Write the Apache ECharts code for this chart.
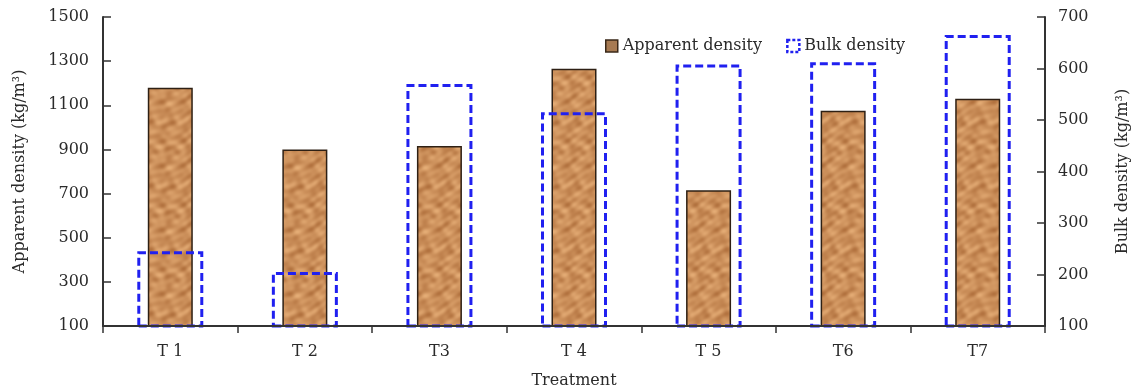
<!DOCTYPE html>
<html>
<head>
<meta charset="utf-8">
<script src="https://cdn.jsdelivr.net/npm/echarts@6/dist/echarts.min.js"></script>
<style>
html,body{margin:0;padding:0;background:#fff;}
#chart{width:1132px;height:392px;}
</style>
</head>
<body>
<div id="chart"></div>
<script>
const categories = ['T 1', 'T 2', 'T3', 'T 4', 'T 5', 'T6', 'T7'];
const apparentDensity = [1180, 900, 915, 1265, 715, 1075, 1130];
const bulkDensity = [245, 205, 570, 515, 608, 612, 665];
const leftTicks = [100, 1500, 200];
const rightTicks = [100, 700, 100];

// cork-like texture for the apparent density bars (deterministic, decorative only)
function makeTexture() {
  const N = 64;
  const c = document.createElement('canvas');
  c.width = N; c.height = N;
  const ctx = c.getContext('2d');
  const img = ctx.createImageData(N, N);
  const a = 2 * Math.PI / N;
  for (let y = 0; y < N; y++) {
    for (let x = 0; x < N; x++) {
      let v = Math.sin(x * a * 3 + Math.sin(y * a * 2) * 1.8)
            + Math.sin(y * a * 5 + Math.cos(x * a * 3) * 1.4)
            + 0.6 * Math.sin((x + 2 * y) * a * 4 + Math.sin(x * a) * 2)
            + 0.5 * Math.cos((2 * x - y) * a * 3 + Math.cos(y * a * 2));
      v = v / 3.1;
      const i = (y * N + x) * 4;
      img.data[i] = Math.max(0, Math.min(255, 203 + v * 26));
      img.data[i + 1] = Math.max(0, Math.min(255, 143 + v * 30));
      img.data[i + 2] = Math.max(0, Math.min(255, 90 + v * 28));
      img.data[i + 3] = 255;
    }
  }
  ctx.putImageData(img, 0, 0);
  return c;
}
const texture = makeTexture();

const font = 'DejaVu Serif';
const fs = 16;
const txt = '#2a2a2a';
const chart = echarts.init(document.getElementById('chart'));
chart.setOption({
  backgroundColor: '#fff',
  animation: false,
  textStyle: { fontFamily: font },
  legend: {
    top: 33,
    left: 600,
    itemWidth: 12,
    itemHeight: 12,
    itemGap: 24,
    textStyle: { fontFamily: font, fontSize: fs, color: txt },
    data: [
      { name: 'Apparent density', icon: 'rect', itemStyle: { color: '#a77a52', borderColor: '#3a2818', borderWidth: 1.5 } },
      { name: 'Bulk density', icon: 'rect', itemStyle: { color: '#fff', borderColor: '#2020f0', borderWidth: 2.5, borderType: [3, 2] } }
    ]
  },
  grid: { left: 103, right: 87, top: 17, bottom: 66, outerBoundsMode: 'none', containLabel: false },
  xAxis: [
    {
      type: 'category',
      data: categories,
      name: 'Treatment',
      nameLocation: 'middle',
      nameGap: 47,
      nameTextStyle: { fontFamily: font, fontSize: fs, color: txt },
      axisLine: { lineStyle: { color: '#333', width: 2 } },
      axisTick: { show: true, inside: false, length: 7, lineStyle: { color: '#333', width: 1.5 } },
      axisLabel: { fontFamily: font, fontSize: fs, color: txt, margin: 18 },
      z: 5
    },
    {
      type: 'category',
      data: categories,
      show: false,
      position: 'bottom'
    }
  ],
  yAxis: [
    {
      type: 'value',
      min: leftTicks[0],
      max: leftTicks[1],
      interval: leftTicks[2],
      name: 'Apparent density (kg/m³)',
      nameLocation: 'middle',
      nameGap: 75,
      nameTextStyle: { fontFamily: font, fontSize: fs, color: txt },
      splitLine: { show: false },
      axisLine: { show: true, lineStyle: { color: '#333', width: 2 } },
      axisTick: { show: true, inside: true, length: 8, lineStyle: { color: '#333', width: 1.5 } },
      axisLabel: { fontFamily: font, fontSize: fs, color: txt, margin: 14, formatter: v => String(v) }
    },
    {
      type: 'value',
      min: rightTicks[0],
      max: rightTicks[1],
      interval: rightTicks[2],
      position: 'right',
      name: 'Bulk density (kg/m³)',
      nameLocation: 'middle',
      nameGap: 70,
      nameRotate: 90,
      nameTextStyle: { fontFamily: font, fontSize: fs, color: txt },
      splitLine: { show: false },
      axisLine: { show: true, lineStyle: { color: '#333', width: 2 } },
      axisTick: { show: true, inside: true, length: 8, lineStyle: { color: '#333', width: 1.5 } },
      axisLabel: { fontFamily: font, fontSize: fs, color: txt, margin: 13, formatter: v => String(v) }
    }
  ],
  series: [
    {
      name: 'Apparent density',
      type: 'bar',
      xAxisIndex: 0,
      yAxisIndex: 0,
      barWidth: 45,
      data: apparentDensity,
      itemStyle: {
        color: { image: texture, repeat: 'repeat' },
        borderColor: '#2e2014',
        borderWidth: 1.5
      },
      z: 2
    },
    {
      name: 'Bulk density',
      type: 'bar',
      xAxisIndex: 1,
      yAxisIndex: 1,
      barWidth: 66,
      data: bulkDensity,
      itemStyle: {
        color: 'rgba(0,0,0,0)',
        borderColor: '#2020f0',
        borderWidth: 3,
        borderType: [8, 4]
      },
      z: 3
    }
  ]
});
</script>
</body>
</html>
